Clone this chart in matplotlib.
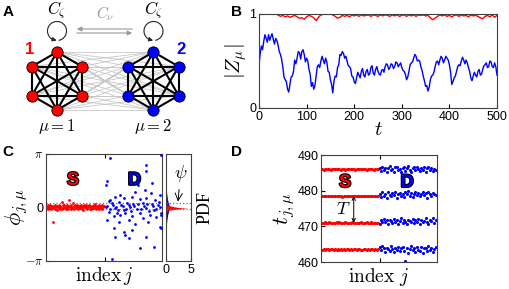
import numpy as np
import matplotlib
matplotlib.use("Agg")
import matplotlib.pyplot as plt
from matplotlib.patches import Arc
import matplotlib.patheffects as pe

plt.rcParams['font.family'] = ['Liberation Sans', 'DejaVu Sans']
plt.rcParams['mathtext.fontset'] = 'cm'

RED = '#ff0000'
BLUE = '#0000ff'

# ---------------- data ----------------
# panel B: order parameters |Z_mu|, read at every 5 time units
t_vals = list(range(0, 505, 5))
z_blue = [0.46, 0.66, 0.71, 0.74, 0.78, 0.76, 0.73, 0.74, 0.67, 0.57,
          0.44, 0.30, 0.20, 0.25, 0.34, 0.51, 0.53, 0.59, 0.60, 0.57,
          0.53, 0.41, 0.23, 0.20, 0.34, 0.46, 0.50, 0.51, 0.53, 0.39,
          0.30, 0.16, 0.34, 0.43, 0.57, 0.60, 0.53, 0.50, 0.44, 0.34,
          0.28, 0.32, 0.35, 0.39, 0.35, 0.39, 0.35, 0.43, 0.37, 0.41,
          0.39, 0.35, 0.41, 0.44, 0.46, 0.43, 0.46, 0.44, 0.48, 0.46,
          0.43, 0.39, 0.30, 0.39, 0.48, 0.53, 0.55, 0.51, 0.44, 0.34,
          0.23, 0.18, 0.30, 0.35, 0.44, 0.50, 0.51, 0.53, 0.51, 0.53,
          0.46, 0.25, 0.32, 0.39, 0.46, 0.50, 0.51, 0.51, 0.43, 0.32,
          0.34, 0.35, 0.39, 0.35, 0.41, 0.46, 0.43, 0.50, 0.44, 0.48,
          0.35]
# blue values in between (t = 2.5, 7.5, ..., 497.5) - the fast jitter
t_mid = [2.5 + 5 * i for i in range(100)]
z_blue_mid = [0.58, 0.62, 0.78, 0.70, 0.72, 0.79, 0.68, 0.72, 0.60, 0.52,
              0.33, 0.28, 0.17, 0.33, 0.39, 0.47, 0.60, 0.52, 0.62, 0.49,
              0.50, 0.36, 0.27, 0.24, 0.44, 0.43, 0.55, 0.47, 0.49, 0.38,
              0.25, 0.29, 0.33, 0.46, 0.56, 0.58, 0.55, 0.45, 0.42, 0.33,
              0.26, 0.38, 0.32, 0.42, 0.33, 0.41, 0.36, 0.45, 0.35, 0.44,
              0.36, 0.40, 0.38, 0.47, 0.41, 0.47, 0.42, 0.49, 0.44, 0.48,
              0.40, 0.36, 0.33, 0.46, 0.49, 0.57, 0.50, 0.50, 0.40, 0.29,
              0.24, 0.22, 0.34, 0.38, 0.49, 0.46, 0.55, 0.48, 0.55, 0.51,
              0.38, 0.28, 0.34, 0.44, 0.45, 0.54, 0.47, 0.48, 0.39, 0.29,
              0.38, 0.33, 0.41, 0.36, 0.45, 0.48, 0.44, 0.49, 0.43, 0.44]
z_red = [1.0, 1.0, 1.0, 1.0, 1.0, 1.0, 0.995, 1.0, 0.99, 0.975,
         0.985, 0.97, 0.98, 0.965, 0.975, 0.985, 0.97, 0.955, 0.96, 0.945,
         0.97, 0.985, 0.975, 0.96, 0.93, 0.965, 0.99, 0.995, 1.0, 0.995,
         1.0, 0.99, 0.975, 0.955, 0.965, 0.985, 0.975, 0.985, 0.97, 0.99,
         0.98, 0.99, 0.975, 0.99, 0.98, 0.985, 0.99, 0.975, 0.99, 0.985,
         0.975, 0.99, 0.98, 0.99, 0.985, 0.975, 0.99, 0.98, 0.99, 0.975,
         0.985, 0.99, 0.975, 0.99, 0.98, 0.99, 0.975, 0.99, 0.985, 0.99,
         0.98, 0.985, 0.96, 0.94, 0.955, 0.975, 0.99, 0.98, 0.99, 0.975,
         0.985, 0.97, 0.985, 0.99, 0.975, 0.99, 0.98, 0.985, 0.97, 0.99,
         0.98, 0.985, 0.975, 0.96, 0.95, 0.975, 0.985, 0.97, 0.99, 0.965,
         0.985]

# panel C: phases of synchronized (red, j=0..99) and desynchronized (blue) oscillators
red_phase = [0.05, -0.08, 0.12, 0.02, -0.05, 0.15, 0.08, -0.10, 0.03, 0.10,
             -0.02, -0.85, 0.06, 0.14, -0.07, 0.01, 0.09, -0.12, 0.11, 0.04,
             -0.04, 0.16, 0.07, -0.09, 0.02, 0.30, -0.06, 0.13, 0.00, 0.08,
             0.12, -0.03, 0.05, -0.11, 0.17, 0.03, -0.06, 0.10, 0.45, 0.01,
             0.07, -0.08, 0.14, 0.04, -0.02, 0.28, 0.09, -0.10, 0.06, 0.12,
             0.02, -0.05, 0.15, 0.08, -0.09, 0.03, 0.11, -0.01, 0.06, 0.13,
             -0.07, 0.04, 0.10, -0.12, 0.16, 0.02, 0.07, -0.04, 0.12, 0.05,
             -0.08, 0.09, 0.01, 0.14, -0.06, 0.08, 0.03, -0.11, 0.11, 0.06,
             0.00, 0.13, -0.03, 0.07, 0.18, -0.09, 0.04, 0.10, -0.05, 0.02,
             0.15, -0.07, 0.08, 0.05, -0.02, 0.12, -0.10, 0.06, 0.03, 0.09]
blue_j = [110, 173, 199, 173, 142, 105, 183, 103, 158, 153, 170, 181, 196, 127, 119,
          133, 147, 162, 173, 187, 107, 113, 125, 139, 150, 167, 182, 193, 102, 119,
          133, 145, 156, 173, 186, 196, 107, 122, 116, 127, 136, 147, 162, 167, 179,
          190, 199, 105, 125, 142, 153, 176, 196, 116, 133, 147, 119, 142, 136, 173,
          162, 186, 113, 199, 110, 104, 110, 114, 120, 124, 128, 132, 138, 142, 146,
          152, 158, 164, 168, 174, 178, 184, 190, 194, 198]
blue_phase = [2.90, 2.51, 3.10, 2.12, 2.02, 1.53, 1.43, 1.33, 1.33, 0.93, 1.03, 0.84, 0.74, 0.74, 0.64,
              0.54, 0.64, 0.48, 0.54, 0.44, 0.40, 0.25, 0.34, 0.29, 0.21, 0.29, 0.21, 0.15, 0.05, -0.05,
              -0.15, 0.05, -0.11, -0.05, -0.15, 0.05, -0.25, -0.34, -0.50, -0.44, -0.31, -0.50, -0.34, -0.64, -0.44,
              -0.54, -0.44, -0.74, -0.84, -0.74, -0.94, -0.84, -1.13, -1.23, -1.43, -1.33, -1.72, -1.82, -1.62, -1.72,
              -2.36, -2.31, -3.00, -1.23, 0.44, 0.10, -0.08, 0.12, 0.02, -0.12, 0.15, 0.08, -0.06, 0.12, -0.20,
              0.10, 0.18, -0.08, 0.10, 0.22, -0.18, 0.06, -0.10, 0.30, -0.30]
pdf_red_phase = [-0.25, -0.15, -0.10, -0.05, 0.00, 0.05, 0.10, 0.15, 0.20]
pdf_red = [0.0, 0.8, 2.0, 4.3, 2.5, 1.5, 0.8, 0.3, 0.0]
pdf_blue_phase = [-1.2, -0.8, -0.4, -0.2, 0.0, 0.2, 0.4, 0.8, 1.2]
pdf_blue = [0.0, 0.15, 0.35, 0.55, 0.75, 0.55, 0.35, 0.15, 0.0]
psi_band = [-0.10, 0.28]

# panel D: firing times, four cycles
t_rows = [486.0, 478.5, 471.0, 463.5]
red_off = [
    [0.05, -0.08, 0.02, 0.10, -0.04, 0.07, -0.10, 0.03, 0.08, -0.06, 0.01, 0.09, -0.03, -0.09, 0.06, 0.04, -0.07, 0.11, 0.00, -0.05,
     0.08, -0.02, 0.05, -0.10, 0.03, 0.10, -0.06, 0.02, 0.07, -0.04, 0.09, -0.08, 0.01, 0.06, -0.03, 0.12, -0.07, 0.04, -0.01, 0.08],
    [-0.06, 0.04, 0.09, -0.02, 0.07, -0.09, 0.01, 0.11, -0.05, 0.03, 0.08, -0.07, 0.02, -0.10, -0.35, 0.06, -0.03, 0.09, -0.08, 0.04,
     0.00, 0.10, -0.06, 0.05, -0.01, 0.08, -0.09, 0.03, 0.12, -0.04, 0.06, -0.02, 0.09, -0.07, 0.02, 0.05, -0.10, 0.07, 0.01, -0.04],
    [0.03, -0.07, 0.10, 0.01, -0.04, 0.08, -0.09, 0.05, 0.02, -0.06, 0.09, -0.02, 0.30, 0.06, -0.08, 0.04, 0.11, -0.05, 0.00, 0.07,
     -0.03, 0.09, -0.10, 0.04, 0.06, -0.07, 0.02, 0.10, -0.01, 0.05, -0.08, 0.08, 0.03, -0.05, 0.11, -0.02, 0.06, -0.09, 0.04, 0.01],
    [-0.02, 0.08, -0.06, 0.04, 0.10, -0.09, 0.02, 0.06, -0.04, 0.11, -0.07, 0.03, 0.00, 0.09, -0.05, 0.05, -0.10, 0.07, 0.01, -0.03,
     0.08, -0.08, 0.04, 0.10, -0.06, 0.02, 0.07, -0.02, -0.09, 0.05, 0.12, -0.04, 0.06, -0.07, 0.03, 0.09, -0.01, 0.04, -0.08, 0.07],
]
blue_off = [
    [0.22, -0.55, 0.66, -0.11, 0.44, -0.77, 0.33, 0.88, -0.33, 0.11, -0.66, 0.55, 0.77, -0.22, 0.00, -0.88, 0.44, 0.66, -0.44, 0.22,
     0.99, -0.11, -0.66, 0.33, 0.55, -0.33, 0.77, 0.11, -0.55, 0.44, -0.22, 0.66, -0.77, 0.22, 0.55, -0.11, 0.33, -0.44, 0.11, -0.33],
    [0.44, -0.33, 0.99, 0.11, 0.66, -0.55, 1.10, 0.33, -0.11, 0.77, 0.22, 1.21, -0.44, 0.55, 0.88, 0.00, 0.66, -0.22, 0.99, 0.44,
     1.32, 0.11, 0.77, -0.33, 0.55, 1.10, 0.22, 0.88, -0.11, 0.66, 1.21, 0.33, 0.77, -0.44, 0.99, 0.44, 0.11, 0.88, 0.55, 0.22],
    [-0.22, 0.77, 0.33, 1.10, 0.11, 0.66, -0.44, 0.88, 0.55, -0.11, 0.99, 0.22, 0.66, -0.33, 0.44, 1.21, 0.00, 0.77, 0.33, -0.22,
     0.88, 0.55, 0.11, 1.10, -0.11, 0.66, 0.33, 0.99, -0.44, 0.77, 0.22, 0.55, 1.32, 0.11, -0.33, 0.88, 0.44, 1.21, 0.00, 0.66],
    [0.66, -0.22, 0.99, 0.33, -0.66, 0.55, 0.11, -0.44, 0.88, 0.22, -0.77, 0.44, -0.11, 0.77, -0.55, 0.33, 0.66, -0.33, -3.20, 0.55,
     -0.88, 0.22, 0.99, -0.22, 0.44, -0.66, 0.77, 0.00, -0.44, 0.66, -0.99, 0.33, 0.55, -0.55, 0.88, -0.11, 0.44, -0.77, 0.22, 0.66],
]
n_half = 100
red_tj = [i * 2.5 for i in range(40)]
blue_tj = [100 + i * 2.5 for i in range(40)]

# panel A: two complete graphs of 6 nodes
n_nodes = 6
centers = [(57, 81), (153.5, 81)]
hex_r = 29

# ---------------- figure ----------------
fig = plt.figure(figsize=(5.1, 2.89), dpi=100)
W, H = 510.0, 289.0


def box(l, t, r, b):
    return [l / W, 1 - b / H, (r - l) / W, (b - t) / H]


# ---- A ----
axA = fig.add_axes([0, 1 - 140 / H, 250 / W, 140 / H])
axA.set_xlim(0, 250)
axA.set_ylim(140, 0)
axA.axis('off')
ang = np.deg2rad(90 + 60 * np.arange(n_nodes))
pos = []
for cx, cy in centers:
    pos.append([(cx + hex_r * np.cos(a), cy - hex_r * np.sin(a)) for a in ang])
for p in pos[0]:
    for q in pos[1]:
        axA.plot([p[0], q[0]], [p[1], q[1]], color='0.78', lw=0.6, zorder=1)
for g, col in zip(pos, [RED, BLUE]):
    for i in range(n_nodes):
        for k in range(i + 1, n_nodes):
            axA.plot([g[i][0], g[k][0]], [g[i][1], g[k][1]], color='k', lw=1.5, zorder=2)
    axA.scatter([p[0] for p in g], [p[1] for p in g], s=66, color=col, edgecolor='k',
                linewidth=0.6, zorder=3)
axA.text(30, 50, '1', color=RED, fontsize=12, fontweight='bold', ha='center', va='center')
axA.text(181, 50, '2', color=BLUE, fontsize=12, fontweight='bold', ha='center', va='center')
for cx, cy in centers:
    axA.add_patch(Arc((cx, 31), 19, 19, theta1=100, theta2=440, color='0.15', lw=0.8))
    a1, a2 = np.deg2rad(120), np.deg2rad(92)
    axA.annotate('', xy=(cx + 9.5 * np.cos(a2), 31 + 9.5 * np.sin(a2)),
                 xytext=(cx + 9.5 * np.cos(a1), 31 + 9.5 * np.sin(a1)),
                 arrowprops=dict(arrowstyle='-|>', color='0.15', lw=0.8, mutation_scale=6,
                                 shrinkA=0, shrinkB=0))
    axA.text(cx, 10, r'$C_\zeta$', fontsize=12, ha='center', va='center')
axA.annotate('', xy=(74, 29), xytext=(135, 29),
             arrowprops=dict(arrowstyle='-|>', color='0.6', lw=0.8, mutation_scale=7))
axA.annotate('', xy=(135, 33), xytext=(74, 33),
             arrowprops=dict(arrowstyle='-|>', color='0.6', lw=0.8, mutation_scale=7))
axA.text(105, 14, r'$C_\nu$', fontsize=11, color='0.6', ha='center', va='center')
axA.text(57, 126, r'$\mu=1$', fontsize=12, ha='center', va='center')
axA.text(153.5, 126, r'$\mu=2$', fontsize=12, ha='center', va='center')

# ---- B ----
axB = fig.add_axes(box(259, 14, 497, 108))
tb = sorted(t_vals + t_mid)
zb = dict(zip(t_vals, z_blue))
zb.update(zip(t_mid, z_blue_mid))
axB.plot(tb, [zb[t] for t in tb], color=BLUE, lw=1.0)
axB.plot(t_vals, z_red, color=RED, lw=1.0)
axB.set_xlim(0, 500)
axB.set_ylim(0, 1)
axB.set_xticks([0, 100, 200, 300, 400, 500])
axB.set_yticks([0, 1])
axB.set_yticklabels(['0', '1'])
axB.tick_params(direction='in', labelsize=9, length=3, pad=2)
axB.set_xlabel(r'$t$', fontsize=15, labelpad=-2)
axB.set_ylabel(r'$|Z_\mu|$', fontsize=15, labelpad=0)

# ---- C ----
axC = fig.add_axes(box(46, 154, 162, 261))
axC.scatter(range(n_half), red_phase, s=4, color=RED, linewidth=0, zorder=3)
axC.scatter(blue_j, blue_phase, s=4, color=BLUE, linewidth=0, zorder=3)
for yb in psi_band:
    axC.axhline(yb, color='0.45', ls=':', lw=0.9, zorder=2)
axC.set_xlim(-2, 2 * n_half)
axC.set_ylim(-np.pi, np.pi)
axC.set_yticks([-np.pi, 0, np.pi])
axC.set_yticklabels([r'$-\pi$', '0', r'$\pi$'])
axC.set_xticks([n_half])
axC.set_xticklabels([''])
axC.tick_params(direction='in', labelsize=9, length=3, pad=2, top=True)
axC.set_xlabel(r'$\mathrm{index}\,j$', fontsize=14, labelpad=1)
axC.set_ylabel(r'$\phi_{j,\mu}$', fontsize=16, labelpad=-4)
for x, s, c in [(45, 'S', RED), (152, 'D', BLUE)]:
    axC.text(x, 1.6, s, color=c, fontsize=13, fontweight='bold', ha='center', va='center',
             path_effects=[pe.withStroke(linewidth=1.6, foreground='k')])

axP = fig.add_axes(box(166, 154, 191, 261))
axP.fill_betweenx(pdf_blue_phase, 0, pdf_blue, color=BLUE, lw=0)
axP.fill_betweenx(pdf_red_phase, 0, pdf_red, color=RED, lw=0)
for yb in psi_band:
    axP.axhline(yb, color='0.45', ls=':', lw=0.9)
axP.set_xlim(0, 5)
axP.set_ylim(-np.pi, np.pi)
axP.set_xticks([0, 5])
axP.set_yticks([])
axP.tick_params(direction='in', labelsize=9, length=3, pad=2)
axP.yaxis.set_label_position('right')
axP.set_ylabel('PDF', fontsize=13, family='Liberation Serif', rotation=90, labelpad=4)
axP.annotate(r'$\psi$', xy=(2.4, 0.35), xytext=(2.9, 2.0), fontsize=13, ha='center', va='center',
             arrowprops=dict(arrowstyle='->', color='k', lw=0.7, shrinkA=2, shrinkB=0))

# ---- D ----
axD = fig.add_axes(box(321, 155, 437, 262))
for tr, ro, bo in zip(t_rows, red_off, blue_off):
    axD.scatter(red_tj, [tr + o for o in ro], s=5, color=RED, linewidth=0)
    axD.scatter(blue_tj, [tr + o for o in bo], s=5, color=BLUE, linewidth=0)
axD.set_xlim(-2, 2 * n_half)
axD.set_ylim(460, 490)
axD.set_yticks([460, 470, 480, 490])
axD.set_xticks([n_half])
axD.set_xticklabels([''])
axD.tick_params(direction='in', labelsize=9, length=3, pad=2, top=True)
axD.set_xlabel(r'$\mathrm{index}\ j$', fontsize=14, labelpad=1)
axD.set_ylabel(r'$t_{j,\mu}$', fontsize=16, labelpad=0)
axD.annotate('', xy=(55, t_rows[2]), xytext=(55, t_rows[1]),
             arrowprops=dict(arrowstyle='<->', color='k', lw=0.7, shrinkA=0, shrinkB=0,
                             mutation_scale=6))
axD.text(37, 474.8, r'$T$', fontsize=13, ha='center', va='center')
for x, s, c in [(40, 'S', RED), (148, 'D', BLUE)]:
    axD.text(x, 482.3, s, color=c, fontsize=13, fontweight='bold', ha='center', va='center',
             path_effects=[pe.withStroke(linewidth=1.6, foreground='k')])

for ax in [axB, axC, axP, axD]:
    for sp in ax.spines.values():
        sp.set_color('0.25')
        sp.set_linewidth(0.8)

for x, y, s in [(8, 12, 'A'), (237, 12, 'B'), (8, 152, 'C'), (237, 152, 'D')]:
    fig.text(x / W, 1 - y / H, s, fontsize=11, fontweight='bold', ha='center', va='center')

fig.savefig('out.png', dpi=100)
